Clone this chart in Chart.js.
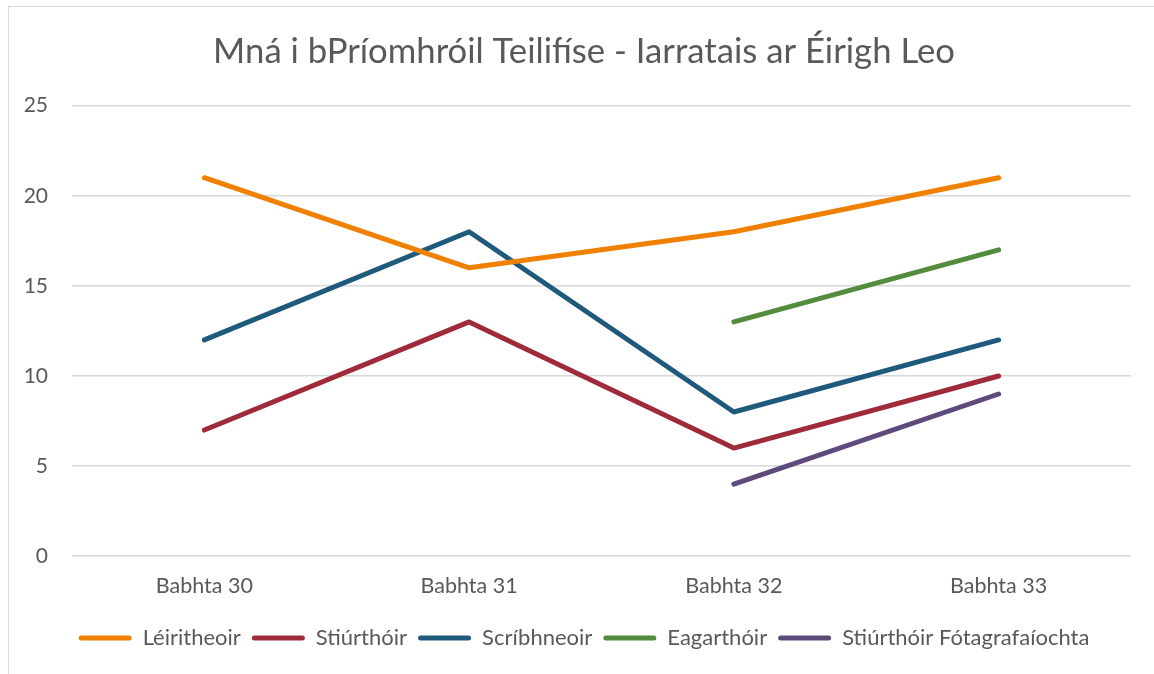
<!DOCTYPE html>
<html>
<head>
<meta charset="utf-8">
<script src="https://cdn.jsdelivr.net/npm/chart.js@4/dist/chart.umd.min.js"></script>
<style>
html,body{margin:0;padding:0;background:#fff;}
#frame{position:absolute;left:8px;top:6px;width:1160px;height:700px;border:1.5px solid #d9d9d9;box-sizing:border-box;}
#wrap{position:absolute;left:0;top:0;width:1154px;height:674px;}
</style>
</head>
<body>
<div id="frame"></div>
<div id="wrap"><canvas id="c" width="1154" height="674"></canvas></div>
<script>
const chartTitle = 'Mná i bPríomhróil Teilifíse - Iarratais ar Éirigh Leo';
const categories = ['Babhta 30', 'Babhta 31', 'Babhta 32', 'Babhta 33'];
const seriesNames = ['Léiritheoir', 'Stiúrthóir', 'Scríbhneoir', 'Eagarthóir', 'Stiúrthóir Fótagrafaíochta'];
const leiritheoir = [21, 16, 18, 21];
const stiurthoir = [7, 13, 6, 10];
const scribhneoir = [12, 18, 8, 12];
const eagarthoir = [null, null, 13, 17];
const stiurthoirFotagrafaiochta = [null, null, 4, 9];
const seriesColors = ['#F08000', '#9E2A3A', '#1F5A7C', '#548C3E', '#5E4B7C'];
const yMin = 0, yMax = 25, yStep = 5;

const values = [leiritheoir, stiurthoir, scribhneoir, eagarthoir, stiurthoirFotagrafaiochta];
const FONT = "Lato, 'Liberation Sans', sans-serif";
const TEXT = '#595959';

// shift title and legend blocks so they are centred like the reference
const centreShift = {
  id: 'centreShift',
  afterLayout(chart) {
    if (chart.titleBlock) chart.titleBlock.left += 19;
    if (chart.legend) chart.legend.left += 19;
  }
};

new Chart(document.getElementById('c'), {
  type: 'line',
  data: {
    labels: categories,
    datasets: seriesNames.map((n, i) => ({
      label: n,
      data: values[i],
      borderColor: seriesColors[i],
      backgroundColor: seriesColors[i],
      borderWidth: 5,
      pointRadius: 0,
      pointHoverRadius: 0,
      borderCapStyle: 'round',
      borderJoinStyle: 'round',
      tension: 0,
      spanGaps: false
    }))
  },
  plugins: [centreShift],
  options: {
    responsive: false,
    animation: false,
    layout: { padding: { left: 18, right: 23, top: 0, bottom: 15 } },
    plugins: {
      title: {
        display: true,
        text: chartTitle,
        color: TEXT,
        font: { family: FONT, size: 34.7, weight: 'normal' },
        padding: { top: 31, bottom: 33 }
      },
      legend: {
        position: 'bottom',
        labels: {
          color: TEXT,
          font: { family: FONT, size: 22 },
          boxWidth: 53,
          boxHeight: 5,
          padding: 11,
          useBorderRadius: true,
          borderRadius: 2.5,
          generateLabels(chart) {
            return chart.data.datasets.map((d, i) => ({
              text: d.label,
              fillStyle: d.borderColor,
              strokeStyle: d.borderColor,
              lineWidth: 0,
              borderRadius: 2.5,
              fontColor: TEXT,
              datasetIndex: i,
              hidden: false
            }));
          }
        }
      },
      tooltip: { enabled: false }
    },
    scales: {
      x: {
        offset: true,
        grid: { display: false, drawTicks: false },
        border: { display: false },
        ticks: { color: TEXT, font: { family: FONT, size: 21.5 }, padding: 17 }
      },
      y: {
        min: yMin, max: yMax,
        grid: { color: '#d9d9d9', lineWidth: 1.5, drawTicks: false },
        border: { display: false },
        ticks: { stepSize: yStep, color: TEXT, font: { family: FONT, size: 21 }, padding: 24 },
        afterFit(s) { s.width = 54; }
      }
    }
  }
});
</script>
</body>
</html>
